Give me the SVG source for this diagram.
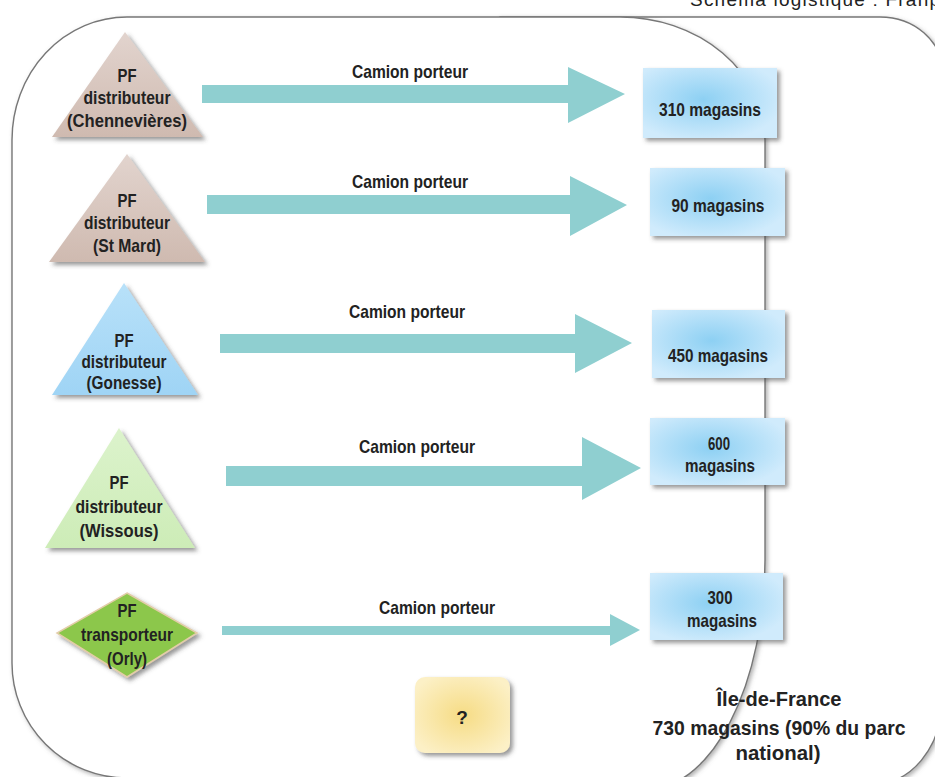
<svg xmlns="http://www.w3.org/2000/svg" width="935" height="777" viewBox="0 0 935 777">
<defs>
<filter id="sh" x="-20%" y="-20%" width="140%" height="140%">
<feDropShadow dx="3" dy="3" stdDeviation="2" flood-color="#444" flood-opacity="0.55"/>
</filter>
<filter id="shl" x="-5%" y="-5%" width="110%" height="110%">
<feDropShadow dx="2" dy="2" stdDeviation="2" flood-color="#666" flood-opacity="0.5"/>
</filter>
<radialGradient id="gBox" cx="0.45" cy="0.45" r="0.6">
<stop offset="0" stop-color="#8dd0f3"/>
<stop offset="1" stop-color="#d0ebfc"/>
</radialGradient>
<radialGradient id="gQ" cx="0.5" cy="0.5" r="0.6">
<stop offset="0" stop-color="#f6dc85"/>
<stop offset="1" stop-color="#fcf0c6"/>
</radialGradient>
<linearGradient id="gBrown" x1="0" y1="0" x2="0" y2="1">
<stop offset="0" stop-color="#e2d4ce"/>
<stop offset="1" stop-color="#cfbab0"/>
</linearGradient>
<linearGradient id="gBlue" x1="0" y1="0" x2="0" y2="1">
<stop offset="0" stop-color="#b8e1f9"/>
<stop offset="1" stop-color="#9fd4f5"/>
</linearGradient>
<linearGradient id="gGreenL" x1="0" y1="0" x2="0" y2="1">
<stop offset="0" stop-color="#dcf3cc"/>
<stop offset="1" stop-color="#cdecb7"/>
</linearGradient>
</defs>
<style>
.frame{fill:#fff;stroke:#777;stroke-width:1.4;filter:url(#shl)}
.lbl{font-family:"Liberation Sans",Arial,sans-serif;font-weight:bold;font-size:19px;fill:#222;text-anchor:middle}
.arr{fill:#8fcfd0}
.box{fill:url(#gBox);filter:url(#sh)}
.big{font-family:"Liberation Sans",Arial,sans-serif;font-weight:bold;font-size:21px;fill:#222;text-anchor:middle}
.title{font-family:"Liberation Sans",Arial,sans-serif;font-size:19px;fill:#222}
</style>

<text class="title" x="690" y="6" textLength="250">Schéma logistique : Franp</text>

<g id="background">
<path class="frame" d="M 500,17 H 880 A 62,54 0 0 1 942,71 V 700 A 70,85 0 0 1 872,785 H 500 Z"/>
<path class="frame" d="M 12,140 A 115,123 0 0 1 127,17 H 620 A 145,123 0 0 1 765,140 V 560 A 120,230 0 0 1 645,790 L 127,778 A 115,115 0 0 1 12,663 Z"/>
</g>

<g id="connectors">
<polygon class="arr" points="202,85 568,85 568,67 625,94 568,123 568,103 202,103"/>
<text class="lbl" x="410" y="78" textLength="116" lengthAdjust="spacingAndGlyphs">Camion porteur</text>
<polygon class="arr" points="207,195 570,195 570,176 627,205 570,236 570,214 207,214"/>
<text class="lbl" x="410" y="188" textLength="116" lengthAdjust="spacingAndGlyphs">Camion porteur</text>
<polygon class="arr" points="220,334 575,334 575,314 632,343 575,373 575,353 220,353"/>
<text class="lbl" x="407" y="318" textLength="116" lengthAdjust="spacingAndGlyphs">Camion porteur</text>
<polygon class="arr" points="226,466 582,466 582,437 641,468 582,500 582,486 226,486"/>
<text class="lbl" x="417" y="453" textLength="116" lengthAdjust="spacingAndGlyphs">Camion porteur</text>
<polygon class="arr" points="222,626 610,626 610,614 640,630 610,646 610,635 222,635"/>
<text class="lbl" x="437" y="614" textLength="116" lengthAdjust="spacingAndGlyphs">Camion porteur</text>
</g>

<g id="pf-chennevieres">
<polygon points="125,32 203,137 52,137" fill="url(#gBrown)" filter="url(#sh)"/>
<text class="lbl" x="127" y="82" textLength="19" lengthAdjust="spacingAndGlyphs">PF</text>
<text class="lbl" x="127" y="104" textLength="87" lengthAdjust="spacingAndGlyphs">distributeur</text>
<text class="lbl" x="127" y="127" textLength="120" lengthAdjust="spacingAndGlyphs">(Chennevières)</text>
</g>
<g id="pf-stmard">
<polygon points="127,154 205,262 49,262" fill="url(#gBrown)" filter="url(#sh)"/>
<text class="lbl" x="127" y="207" textLength="19" lengthAdjust="spacingAndGlyphs">PF</text>
<text class="lbl" x="127" y="229" textLength="86" lengthAdjust="spacingAndGlyphs">distributeur</text>
<text class="lbl" x="127" y="252" textLength="68" lengthAdjust="spacingAndGlyphs">(St Mard)</text>
</g>
<g id="pf-gonesse">
<polygon points="124,283 198,395 52,395" fill="url(#gBlue)" filter="url(#sh)"/>
<text class="lbl" x="124" y="347" textLength="19" lengthAdjust="spacingAndGlyphs">PF</text>
<text class="lbl" x="124" y="368" textLength="85" lengthAdjust="spacingAndGlyphs">distributeur</text>
<text class="lbl" x="124" y="389" textLength="75" lengthAdjust="spacingAndGlyphs">(Gonesse)</text>
</g>
<g id="pf-wissous">
<polygon points="119,428 195,548 45,548" fill="url(#gGreenL)" filter="url(#sh)"/>
<text class="lbl" x="119" y="489" textLength="19" lengthAdjust="spacingAndGlyphs">PF</text>
<text class="lbl" x="119" y="513" textLength="87" lengthAdjust="spacingAndGlyphs">distributeur</text>
<text class="lbl" x="119" y="537" textLength="79" lengthAdjust="spacingAndGlyphs">(Wissous)</text>
</g>
<g id="pf-orly">
<polygon points="127,593 197,633 127,677 57,633" fill="#8cc74b" stroke="#e3cda9" stroke-width="1.5" filter="url(#sh)"/>
<text class="lbl" x="127" y="617" textLength="19" lengthAdjust="spacingAndGlyphs">PF</text>
<text class="lbl" x="127" y="641" textLength="92" lengthAdjust="spacingAndGlyphs">transporteur</text>
<text class="lbl" x="127" y="665" textLength="40" lengthAdjust="spacingAndGlyphs">(Orly)</text>
</g>

<g id="m310">
<rect class="box" x="643" y="68" width="134" height="70"/>
<text class="lbl" x="710" y="116" textLength="102" lengthAdjust="spacingAndGlyphs">310 magasins</text>
</g>
<g id="m90">
<rect class="box" x="650" y="168" width="135" height="68"/>
<text class="lbl" x="718" y="212" textLength="93" lengthAdjust="spacingAndGlyphs">90 magasins</text>
</g>
<g id="m450">
<rect class="box" x="652" y="310" width="133" height="68"/>
<text class="lbl" x="718" y="362" textLength="100" lengthAdjust="spacingAndGlyphs">450 magasins</text>
</g>
<g id="m600">
<rect class="box" x="650" y="418" width="135" height="67"/>
<text class="lbl" x="719" y="450" textLength="22" lengthAdjust="spacingAndGlyphs">600</text>
<text class="lbl" x="720" y="472" textLength="70" lengthAdjust="spacingAndGlyphs">magasins</text>
</g>
<g id="m300">
<rect class="box" x="650" y="573" width="133" height="67"/>
<text class="lbl" x="720" y="604" textLength="25" lengthAdjust="spacingAndGlyphs">300</text>
<text class="lbl" x="722" y="627" textLength="70" lengthAdjust="spacingAndGlyphs">magasins</text>
</g>

<g id="question">
<rect x="415" y="677" width="95" height="76" rx="10" fill="url(#gQ)" filter="url(#sh)"/>
<text class="lbl" x="462" y="724">?</text>
</g>

<g id="idf">
<text class="big" x="779" y="706" textLength="125" lengthAdjust="spacingAndGlyphs">Île-de-France</text>
<text class="big" x="779" y="735" textLength="253" lengthAdjust="spacingAndGlyphs">730 magasins (90% du parc</text>
<text class="big" x="778" y="760" textLength="85" lengthAdjust="spacingAndGlyphs">national)</text>
</g>
</svg>
